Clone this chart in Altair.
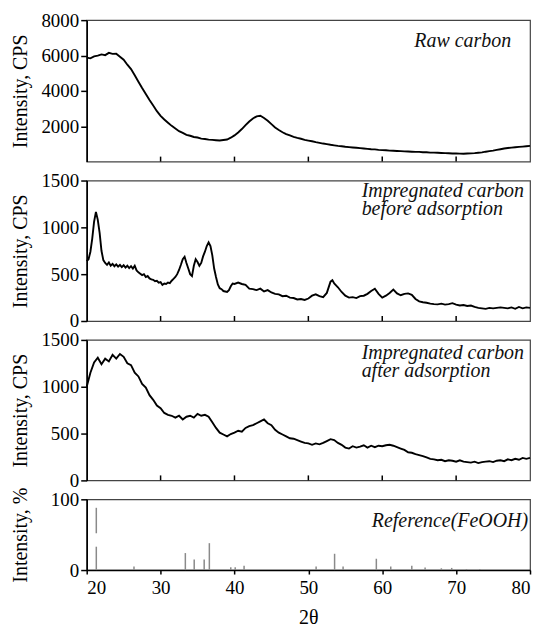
import altair as alt
import pandas as pd

# ---------------- data ----------------
RAW_CARBON = [
    (20.0, 5880), (20.5, 5840), (21.0, 5950), (21.5, 5990), (22.0, 6060), (22.5, 6020),
    (23.0, 6150), (23.5, 6090), (24.0, 6100), (24.5, 5930), (25.0, 5760), (25.5, 5480),
    (26.0, 5230), (26.5, 4880), (27.0, 4520), (27.5, 4160), (28.0, 3820), (28.5, 3480),
    (29.0, 3170), (29.5, 2850), (30.0, 2590), (30.5, 2380), (31.0, 2200), (31.5, 2020),
    (32.0, 1870), (32.5, 1720), (33.0, 1620), (33.5, 1510), (34.0, 1460), (34.5, 1390),
    (35.0, 1360), (35.5, 1300), (36.0, 1280), (36.5, 1240), (37.0, 1230), (37.5, 1210),
    (38.0, 1190), (38.5, 1220), (39.0, 1250), (39.5, 1350), (40.0, 1480), (40.5, 1650),
    (41.0, 1840), (41.5, 2060), (42.0, 2270), (42.5, 2440), (43.0, 2560), (43.5, 2590),
    (44.0, 2470), (44.5, 2310), (45.0, 2120), (45.5, 1930), (46.0, 1790), (46.5, 1660),
    (47.0, 1560), (47.5, 1480), (48.0, 1400), (48.5, 1340), (49.0, 1290), (49.5, 1230),
    (50.0, 1190), (50.5, 1150), (51.0, 1100), (51.5, 1060), (52.0, 1020), (52.5, 990),
    (53.0, 950), (53.5, 920), (54.0, 890), (54.5, 870), (55.0, 840), (55.5, 820),
    (56.0, 800), (56.5, 780), (57.0, 760), (57.5, 740), (58.0, 720), (58.5, 700),
    (59.0, 690), (59.5, 660), (60.0, 650), (60.5, 640), (61.0, 620), (61.5, 610),
    (62.0, 600), (62.5, 590), (63.0, 580), (63.5, 570), (64.0, 560), (64.5, 550),
    (65.0, 550), (65.5, 530), (66.0, 530), (66.5, 510), (67.0, 510), (67.5, 500),
    (68.0, 490), (68.5, 480), (69.0, 470), (69.5, 460), (70.0, 455), (70.5, 450),
    (71.0, 445), (71.5, 460), (72.0, 465), (72.5, 480), (73.0, 500), (73.5, 520),
    (74.0, 560), (74.5, 590), (75.0, 620), (75.5, 660), (76.0, 700), (76.5, 740),
    (77.0, 770), (77.5, 790), (78.0, 810), (78.5, 830), (79.0, 850), (79.5, 870),
    (80.0, 890),
]

BEFORE_ADS = [
    (20.0, 640), (20.25, 660), (20.5, 740), (20.75, 880), (21.0, 1060), (21.25, 1165),
    (21.5, 1080), (21.75, 940), (22.0, 750), (22.25, 650), (22.5, 620), (22.75, 600),
    (23.0, 625), (23.25, 590), (23.5, 610), (23.75, 585), (24.0, 605), (24.25, 580),
    (24.5, 600), (24.75, 575), (25.0, 595), (25.25, 570), (25.5, 590), (25.75, 565),
    (26.0, 585), (26.25, 560), (26.5, 590), (26.75, 540), (27.0, 520), (27.25, 505),
    (27.5, 490), (27.75, 500), (28.0, 470), (28.25, 480), (28.5, 455), (28.75, 445),
    (29.0, 440), (29.25, 425), (29.5, 430), (29.75, 410), (30.0, 415), (30.25, 385),
    (30.5, 400), (30.75, 395), (31.0, 410), (31.25, 405), (31.5, 430), (31.75, 450),
    (32.0, 470), (32.25, 500), (32.5, 545), (32.75, 600), (33.0, 660), (33.25, 685),
    (33.5, 620), (33.75, 560), (34.0, 500), (34.25, 480), (34.5, 590), (34.75, 660),
    (35.0, 630), (35.25, 590), (35.5, 620), (35.75, 690), (36.0, 740), (36.25, 800),
    (36.5, 840), (36.75, 800), (37.0, 700), (37.25, 560), (37.5, 470), (37.75, 390),
    (38.0, 350), (38.25, 340), (38.5, 320), (38.75, 315), (39.0, 310), (39.25, 330),
    (39.5, 370), (39.75, 400), (40.0, 395), (40.5, 410), (41.0, 395), (41.5, 385),
    (42.0, 345), (42.5, 340), (43.0, 330), (43.5, 345), (44.0, 315), (44.5, 330),
    (45.0, 305), (45.5, 290), (46.0, 285), (46.5, 265), (47.0, 270), (47.5, 250),
    (48.0, 245), (48.5, 230), (49.0, 235), (49.5, 225), (50.0, 240), (50.5, 270),
    (51.0, 285), (51.5, 265), (52.0, 255), (52.5, 300), (53.0, 420), (53.25, 435),
    (53.5, 400), (54.0, 360), (54.5, 310), (55.0, 270), (55.5, 250), (56.0, 255),
    (56.5, 245), (57.0, 265), (57.5, 270), (58.0, 290), (58.5, 320), (59.0, 345),
    (59.5, 290), (60.0, 250), (60.5, 270), (61.0, 300), (61.5, 335), (62.0, 295),
    (62.5, 275), (63.0, 290), (63.5, 295), (64.0, 280), (64.5, 235), (65.0, 210),
    (65.5, 200), (66.0, 195), (66.5, 185), (67.0, 180), (67.5, 178), (68.0, 185),
    (68.5, 175), (69.0, 180), (69.5, 190), (70.0, 175), (70.5, 165), (71.0, 170),
    (71.5, 160), (72.0, 165), (72.5, 150), (73.0, 140), (73.5, 135), (74.0, 130),
    (74.5, 140), (75.0, 135), (75.5, 140), (76.0, 145), (76.5, 140), (77.0, 135),
    (77.5, 145), (78.0, 130), (78.5, 150), (79.0, 135), (79.5, 145), (80.0, 140),
]

AFTER_ADS = [
    (20.0, 1000), (20.5, 1150), (21.0, 1260), (21.5, 1310), (22.0, 1240), (22.5, 1300),
    (23.0, 1270), (23.5, 1340), (24.0, 1300), (24.5, 1350), (25.0, 1320), (25.5, 1250),
    (26.0, 1230), (26.5, 1150), (27.0, 1110), (27.5, 1030), (28.0, 990), (28.5, 910),
    (29.0, 860), (29.5, 800), (30.0, 770), (30.5, 720), (31.0, 700), (31.5, 690),
    (32.0, 670), (32.5, 690), (33.0, 650), (33.5, 680), (34.0, 690), (34.5, 670),
    (35.0, 710), (35.5, 690), (36.0, 700), (36.5, 680), (37.0, 620), (37.5, 560),
    (38.0, 510), (38.5, 490), (39.0, 470), (39.5, 495), (40.0, 510), (40.5, 530),
    (41.0, 520), (41.5, 560), (42.0, 580), (42.5, 590), (43.0, 610), (43.5, 630),
    (44.0, 650), (44.5, 610), (45.0, 590), (45.5, 540), (46.0, 510), (46.5, 490),
    (47.0, 470), (47.5, 450), (48.0, 445), (48.5, 430), (49.0, 415), (49.5, 400),
    (50.0, 395), (50.5, 380), (51.0, 395), (51.5, 385), (52.0, 400), (52.5, 420),
    (53.0, 440), (53.5, 430), (54.0, 400), (54.5, 380), (55.0, 350), (55.5, 340),
    (56.0, 365), (56.5, 350), (57.0, 360), (57.5, 375), (58.0, 350), (58.5, 370),
    (59.0, 355), (59.5, 370), (60.0, 365), (60.5, 375), (61.0, 380), (61.5, 370),
    (62.0, 355), (62.5, 340), (63.0, 325), (63.5, 300), (64.0, 295), (64.5, 280),
    (65.0, 270), (65.5, 260), (66.0, 245), (66.5, 230), (67.0, 225), (67.5, 215),
    (68.0, 220), (68.5, 205), (69.0, 215), (69.5, 210), (70.0, 200), (70.5, 215),
    (71.0, 200), (71.5, 195), (72.0, 190), (72.5, 200), (73.0, 185), (73.5, 195),
    (74.0, 200), (74.5, 205), (75.0, 195), (75.5, 210), (76.0, 215), (76.5, 205),
    (77.0, 225), (77.5, 215), (78.0, 230), (78.5, 220), (79.0, 240), (79.5, 230),
    (80.0, 240),
]

# reference pattern sticks: (2theta, bottom %, top %)
FEOOH_STICKS = [
    (21.3, 0, 33), (21.3, 52, 88), (26.4, 0, 5), (33.35, 0, 24), (34.55, 0, 15),
    (35.9, 0, 15), (36.6, 0, 38), (39.5, 0, 4), (40.1, 0, 4), (41.3, 0, 6),
    (51.05, 0, 5), (53.55, 0, 23), (54.7, 0, 5), (59.2, 0, 16), (61.15, 0, 5),
    (64.0, 0, 6), (65.8, 0, 3.5), (68.0, 0, 2.5), (69.4, 0, 3), (71.4, 0, 1.5),
    (73.2, 0, 1.5),
]

INNER_TICKS = [30, 40, 50, 60, 70]
X_LABELS = [20, 30, 40, 50, 60, 70, 80]
Y_TICKS_RAW = [2000, 4000, 6000, 8000]
Y_TICKS_CPS = [0, 500, 1000, 1500]
Y_TICKS_PCT = [0, 100]

LABELS = ["Raw carbon", ["Impregnated carbon", "before adsorption"],
          ["Impregnated carbon", "after adsorption"], "Reference(FeOOH)"]

# ---------------- chart ----------------
W = 445
FONT = "Liberation Serif"
XS = alt.Scale(domain=[20, 80], nice=False, zero=False)


def yaxis(values, title, h):
    return alt.Axis(values=values, title=title, tickSize=6, tickWidth=1.5,
                    labelPadding=2, titleX=-56, titleY=h / 2, format="d")


def label_layer(lines, lx, ly, align):
    if isinstance(lines, str):
        lines = [lines]
    layers = []
    for i, s in enumerate(lines):
        layers.append(
            alt.Chart(pd.DataFrame({"s": [s]})).mark_text(
                font=FONT, fontSize=20, fontStyle="italic", align=align,
                baseline="middle", color="#111").encode(
                x=alt.value(lx), y=alt.value(ly + 18 * i), text="s:N"))
    return layers


def line_panel(pairs, ymax, yvals, label, h, lx, ly, align):
    df = pd.DataFrame(pairs, columns=["theta", "I"])
    line = alt.Chart(df).mark_line(color="black", strokeWidth=1.9).encode(
        x=alt.X("theta:Q", scale=XS,
                axis=alt.Axis(title=None, labels=False, ticks=False, values=X_LABELS)),
        y=alt.Y("I:Q", scale=alt.Scale(domain=[0, ymax], nice=False),
                axis=yaxis(yvals, "Intensity, CPS", h)),
    )
    ticks = alt.Chart(pd.DataFrame({"t": INNER_TICKS})).mark_rule(
        color="black", strokeWidth=1.5).encode(
        x=alt.X("t:Q", scale=XS, axis=None),
        y=alt.value(h), y2=alt.value(h - 5),
    )
    return alt.layer(line, ticks, *label_layer(label, lx, ly, align)).properties(
        width=W, height=h)


p1 = line_panel(RAW_CARBON, 8000, Y_TICKS_RAW, LABELS[0], 142, 426, 21, "right")
p2 = line_panel(BEFORE_ADS, 1500, Y_TICKS_CPS, LABELS[1], 276, 11, "left") if False else \
    line_panel(BEFORE_ADS, 1500, Y_TICKS_CPS, LABELS[1], 141, 276, 11, "left")
p3 = line_panel(AFTER_ADS, 1500, Y_TICKS_CPS, LABELS[2], 141, 276, 13, "left")

H4 = 71
sdf = pd.DataFrame(FEOOH_STICKS, columns=["theta", "b", "t"])
sticks = alt.Chart(sdf).mark_rule(color="#8a8a8a", strokeWidth=1.5).encode(
    x=alt.X("theta:Q", scale=XS,
            axis=alt.Axis(title="2θ", values=X_LABELS, tickSize=4, tickWidth=1.5,
                          labelPadding=5, titlePadding=10, format="d")),
    y=alt.Y("b:Q", scale=alt.Scale(domain=[0, 100], nice=False),
            axis=yaxis(Y_TICKS_PCT, "Intensity, %", H4)),
    y2="t:Q",
)
p4 = alt.layer(sticks, *label_layer(LABELS[3], 443, 22, "right")).properties(
    width=W, height=H4)

chart = alt.vconcat(p1, p2, p3, p4, spacing=19, bounds="flush").properties(
    padding={"left": 2, "top": 1, "right": 0, "bottom": 0}
).configure_view(
    stroke="#444", strokeWidth=1.2
).configure_axis(
    domainColor="black", domainWidth=1.6, tickColor="black", grid=False,
    labelFont=FONT, labelFontSize=19, labelColor="black",
    titleFont=FONT, titleFontSize=20, titleFontWeight="normal", titleColor="black",
)

chart.save("out.html", embed_options={"renderer": "svg", "actions": False})
